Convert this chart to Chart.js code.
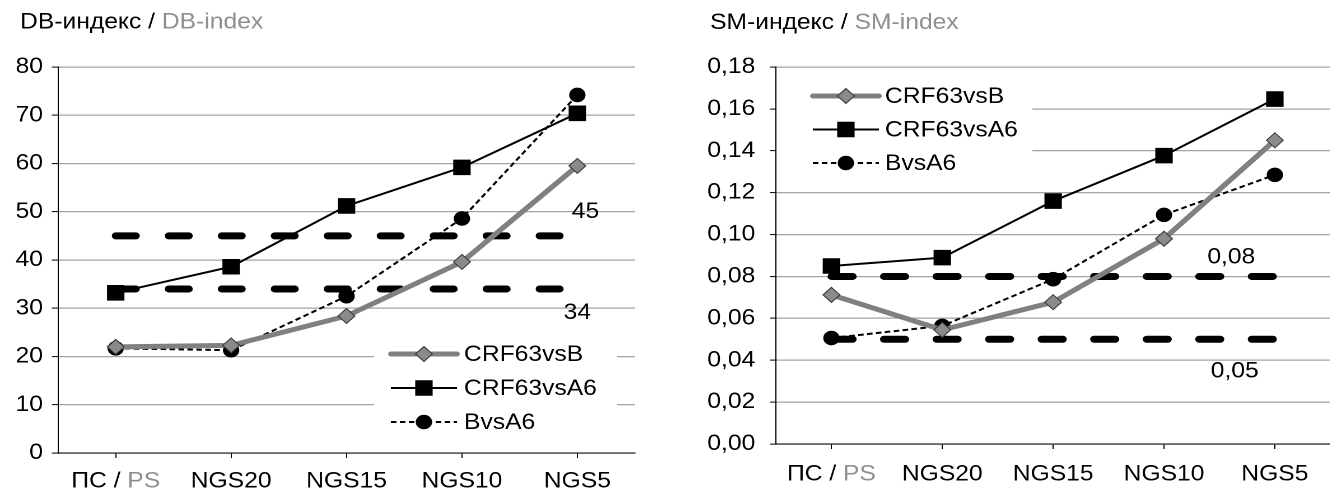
<!DOCTYPE html>
<html><head><meta charset="utf-8">
<script src="https://cdn.jsdelivr.net/npm/chart.js@4.4.1/dist/chart.umd.min.js"></script>
<style>
html,body{margin:0;padding:0;background:#fff;overflow:hidden;width:1330px;height:492px;position:relative;}
.wrap{position:absolute;top:0;height:492px;transform-origin:0 0;}
canvas{display:block;}
</style></head><body>
<div class="wrap" id="w1"><canvas id="c1"></canvas></div>
<div class="wrap" id="w2"><canvas id="c2"></canvas></div>
<script>
// ---------- data ----------
const categories = ['ПС / PS', 'NGS20', 'NGS15', 'NGS10', 'NGS5'];
const seriesNames = ['CRF63vsB', 'CRF63vsA6', 'BvsA6'];

const dbTitle = 'DB-индекс / DB-index';
const dbCRF63vsB  = [22.0, 22.3, 28.4, 39.6, 59.5];
const dbCRF63vsA6 = [33.2, 38.6, 51.2, 59.2, 70.4];
const dbBvsA6     = [21.7, 21.3, 32.5, 48.6, 74.2];
const dbThresholds = [45, 34];
const dbThresholdLabels = ['45', '34'];
const dbTickLabels = ['0', '10', '20', '30', '40', '50', '60', '70', '80'];

const smTitle = 'SM-индекс / SM-index';
const smCRF63vsB  = [0.0712, 0.0545, 0.0677, 0.0980, 0.1450];
const smCRF63vsA6 = [0.0850, 0.0890, 0.1160, 0.1377, 0.1647];
const smBvsA6     = [0.0506, 0.0564, 0.0787, 0.1094, 0.1285];
const smThresholds = [0.08, 0.05];
const smThresholdLabels = ['0,08', '0,05'];
const smTickLabels = ['0,00', '0,02', '0,04', '0,06', '0,08', '0,10', '0,12', '0,14', '0,16', '0,18'];

// ---------- styling ----------
const STRETCH = 1.12;
const FONT = '"Liberation Sans", Arial, Helvetica, sans-serif';
const GREY_TEXT = '#8f8f8f';
const seriesStyles = [
  {borderColor:'#808080', borderWidth:5, borderDash:[], pointStyle:'rectRot', pointRadius:7.5, pointBackgroundColor:'#8a8a8a', pointBorderColor:'#3a3a3a', pointBorderWidth:1, cap:'round'},
  {borderColor:'#000000', borderWidth:2, borderDash:[], pointStyle:'rect', pointRadius:11, pointBackgroundColor:'#000000', pointBorderColor:'#000000', pointBorderWidth:0, cap:'butt'},
  {borderColor:'#000000', borderWidth:2, borderDash:[5,3], pointStyle:'circle', pointRadius:7.3, pointBackgroundColor:'#000000', pointBorderColor:'#000000', pointBorderWidth:0, cap:'butt'}
];

function drawMarker(ctx, st, x, y) {
  const r = st.pointRadius;
  ctx.save();
  ctx.setLineDash([]);
  ctx.fillStyle = st.pointBackgroundColor;
  ctx.strokeStyle = st.pointBorderColor;
  ctx.lineWidth = st.pointBorderWidth;
  ctx.beginPath();
  if (st.pointStyle === 'rectRot') {
    ctx.moveTo(x - r, y); ctx.lineTo(x, y - r); ctx.lineTo(x + r, y); ctx.lineTo(x, y + r); ctx.closePath();
  } else if (st.pointStyle === 'rect') {
    const s = r * Math.SQRT1_2; ctx.rect(x - s, y - s, 2 * s, 2 * s);
  } else {
    ctx.arc(x, y, r, 0, Math.PI * 2);
  }
  ctx.fill();
  if (st.pointBorderWidth > 0) ctx.stroke();
  ctx.restore();
}

function drawSplit(ctx, text, x, y, align) {
  const i = text.indexOf(' / ');
  const a = i >= 0 ? text.slice(0, i + 3) : text;
  const b = i >= 0 ? text.slice(i + 3) : '';
  const wa = ctx.measureText(a).width, wb = ctx.measureText(b).width;
  const x0 = align === 'center' ? x - (wa + wb) / 2 : x;
  ctx.textAlign = 'left';
  ctx.fillStyle = '#000';
  ctx.fillText(a, x0, y);
  if (b) { ctx.fillStyle = GREY_TEXT; ctx.fillText(b, x0 + wa, y); }
}

const customDraw = {
  id: 'customDraw',
  afterDatasetsDraw(chart, args, o) {
    const ctx = chart.ctx, xs = chart.scales.x, ys = chart.scales.y;
    ctx.save();
    ctx.font = '22px ' + FONT;
    ctx.textAlign = 'center';
    ctx.textBaseline = 'alphabetic';
    ctx.fillStyle = '#000';
    o.thresholds.forEach((v, i) => {
      const x = xs.getPixelForValue(o.thrPos[i]);
      const y = ys.getPixelForValue(v) + o.thrDy[i];
      ctx.fillText(o.thrLabels[i], x, y);
    });
    ctx.restore();
  },
  afterDraw(chart, args, o) {
    const ctx = chart.ctx, xs = chart.scales.x, ca = chart.chartArea;
    ctx.save();
    ctx.textBaseline = 'alphabetic';
    // title
    ctx.font = '22px ' + FONT;
    drawSplit(ctx, o.title, o.titleX, o.titleY, 'left');
    // x labels
    ctx.font = '22px ' + FONT;
    categories.forEach((c, i) => {
      drawSplit(ctx, c, xs.getPixelForValue(i), ca.bottom + o.xLabelDy, 'center');
    });
    // legend
    const L = o.legend;
    ctx.fillStyle = '#fff';
    ctx.fillRect(L.x, L.y, L.w, L.h);
    seriesNames.forEach((name, i) => {
      const st = seriesStyles[i];
      const y = L.row0 + i * L.rowGap;
      ctx.save();
      ctx.strokeStyle = st.borderColor;
      ctx.lineWidth = st.borderWidth;
      ctx.lineCap = st.cap;
      ctx.setLineDash(st.borderDash);
      ctx.beginPath(); ctx.moveTo(L.sx, y); ctx.lineTo(L.sx + L.sw, y); ctx.stroke();
      ctx.restore();
      drawMarker(ctx, st, L.sx + L.sw / 2, y);
      ctx.font = '22px ' + FONT;
      ctx.fillStyle = '#000';
      ctx.textAlign = 'left';
      ctx.textBaseline = 'middle';
      ctx.fillText(name, L.tx, y + 1);
    });
    ctx.restore();
  }
};

function makeChart(id, wrapId, cfg) {
  const wrap = document.getElementById(wrapId);
  wrap.style.left = cfg.pageLeft + 'px';
  wrap.style.width = cfg.width + 'px';
  wrap.style.transform = 'scaleX(' + STRETCH + ')';
  const canvas = document.getElementById(id);
  canvas.width = cfg.width; canvas.height = 492;
  const datasets = cfg.series.map((d, i) => {
    const st = seriesStyles[i];
    return {
      label: seriesNames[i], data: d,
      borderColor: st.borderColor, borderWidth: st.borderWidth, borderDash: st.borderDash,
      borderCapStyle: st.cap, borderJoinStyle: 'round',
      pointStyle: st.pointStyle, pointRadius: st.pointRadius, pointHoverRadius: st.pointRadius,
      pointBackgroundColor: st.pointBackgroundColor, pointBorderColor: st.pointBorderColor,
      pointBorderWidth: st.pointBorderWidth, tension: 0, fill: false
    };
  });
  cfg.thresholds.forEach((v) => {
    datasets.push({
      label: 'threshold ' + v, data: categories.map(() => v),
      borderColor: '#000', borderWidth: 7, borderDash: cfg.thrDash, borderCapStyle: 'round',
      pointRadius: 0, pointHoverRadius: 0, fill: false, tension: 0
    });
  });
  return new Chart(canvas, {
    type: 'line',
    data: { labels: categories, datasets },
    options: {
      responsive: false, animation: false, devicePixelRatio: 2,
      layout: { padding: { left: 0, top: cfg.top, right: cfg.width - cfg.areaRight, bottom: 0 } },
      plugins: {
        legend: { display: false }, tooltip: { enabled: false },
        customDraw: {
          title: cfg.title, titleX: cfg.titleX, titleY: cfg.titleY, xLabelDy: cfg.xLabelDy,
          thresholds: cfg.thresholds, thrLabels: cfg.thrLabels, thrPos: cfg.thrPos, thrDy: cfg.thrDy,
          legend: cfg.legend
        }
      },
      scales: {
        x: {
          type: 'category', offset: true,
          grid: { display: true, drawOnChartArea: false, offset: false, tickLength: 5, tickColor: '#000', tickWidth: 1 },
          border: { display: true, color: '#000', width: 1 },
          ticks: { color: 'rgba(0,0,0,0)', font: { family: FONT, size: 22 }, padding: 4, maxRotation: 0, autoSkip: false },
          afterFit: (s) => { s.height = cfg.xAxisH; }
        },
        y: {
          min: 0, max: cfg.yMax,
          grid: { color: '#a3a3a3', lineWidth: 1.2, tickColor: '#000', tickLength: 5.5, tickWidth: 1 },
          border: { display: true, color: '#000', width: 1 },
          ticks: { stepSize: cfg.yStep, color: '#000', font: { family: FONT, size: 22 }, padding: cfg.yPad,
                   callback: (v, i) => cfg.tickLabels[i] },
          afterFit: (s) => { s.width = cfg.axisW; }
        }
      }
    },
    plugins: [customDraw]
  });
}

makeChart('c1', 'w1', {
  pageLeft: 0, width: 594, top: 67, areaRight: 567, axisW: 51.8, xAxisH: 39, yPad: 8,
  yMax: 80, yStep: 10, tickLabels: dbTickLabels,
  series: [dbCRF63vsB, dbCRF63vsA6, dbBvsA6],
  thresholds: dbThresholds, thrLabels: dbThresholdLabels, thrPos: [4.07, 4.0], thrDy: [-18, 30],
  thrDash: [18, 29.3],
  title: dbTitle, titleX: 17.9, titleY: 28.5, xLabelDy: 34.5,
  legend: { x: 334, y: 340, w: 217, h: 97, sx: 349, sw: 59, tx: 414.3, row0: 354, rowGap: 34 }
});

makeChart('c2', 'w2', {
  pageLeft: 665, width: 605, top: 67, areaRight: 599.1, axisW: 99.1, xAxisH: 48, yPad: 13,
  yMax: 0.18, yStep: 0.02, tickLabels: smTickLabels,
  series: [smCRF63vsB, smCRF63vsA6, smBvsA6],
  thresholds: smThresholds, thrLabels: smThresholdLabels, thrPos: [3.607, 3.638], thrDy: [-13, 38],
  thrDash: [19, 27.9],
  title: smTitle, titleX: 40.2, titleY: 29, xLabelDy: 36.5,
  legend: { x: 99.5, y: 74, w: 228.5, h: 104, sx: 132, sw: 59, tx: 196.4, row0: 96, rowGap: 33.5 }
});
</script>
</body></html>
